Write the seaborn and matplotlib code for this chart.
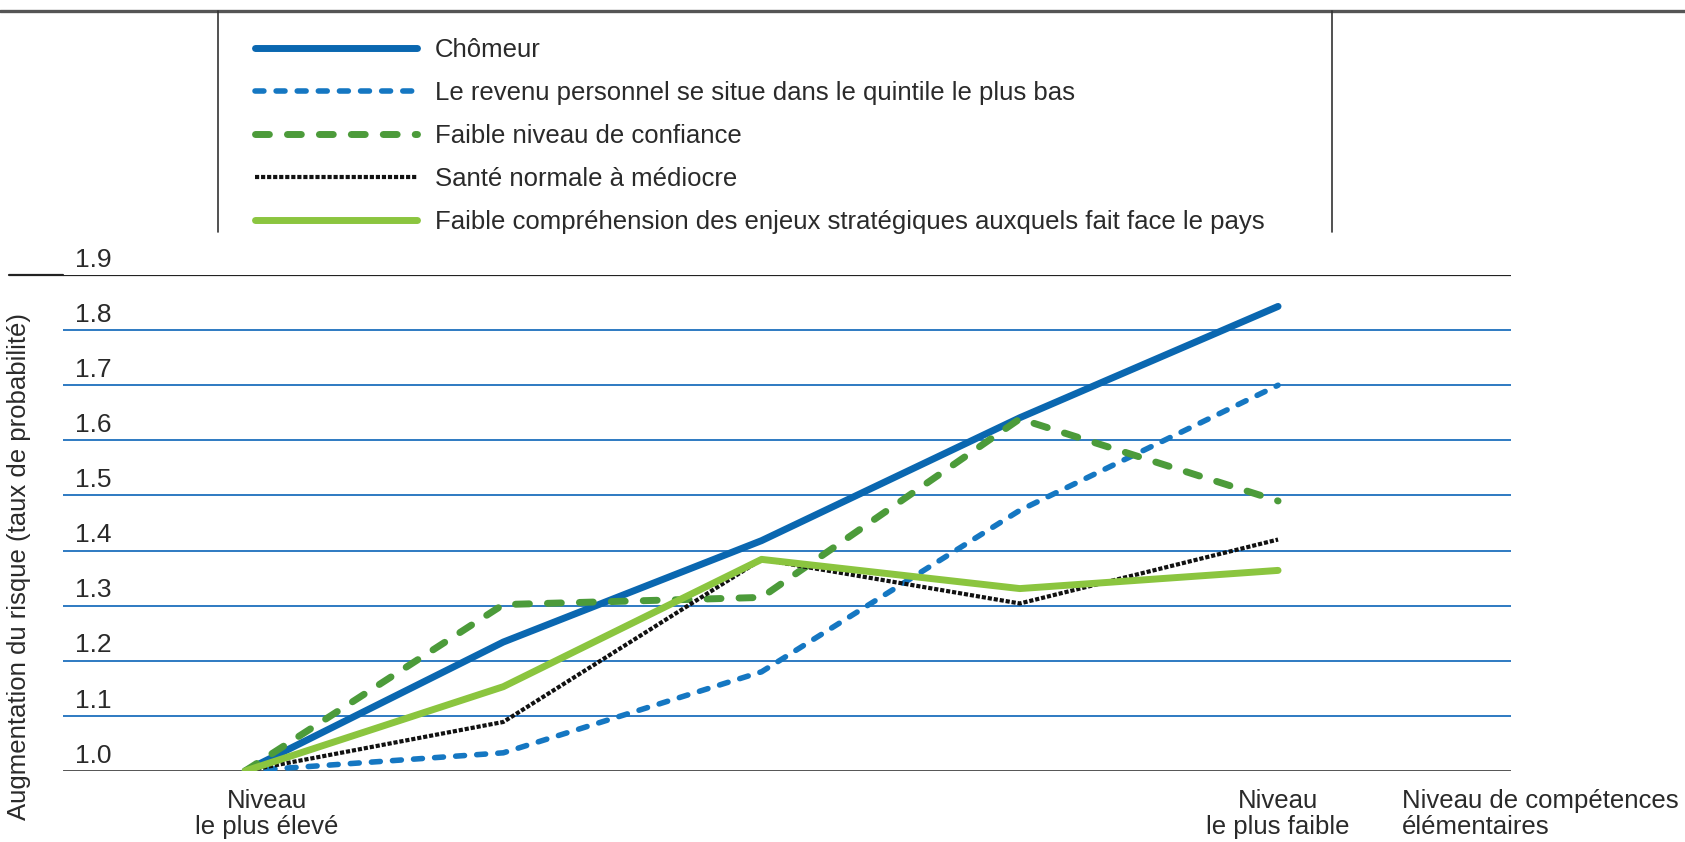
import matplotlib
matplotlib.use("Agg")
import matplotlib.pyplot as plt
import seaborn as sns
from matplotlib.lines import Line2D

# skill levels, highest (0) to lowest (4)
levels = [0, 1, 2, 3, 4]

chomeur = [1.0, 1.234, 1.418, 1.641, 1.843]
revenu = [1.0, 1.033, 1.18, 1.473, 1.70]
confiance = [1.0, 1.302, 1.315, 1.639, 1.49]
sante = [1.0, 1.089, 1.384, 1.304, 1.42]
comprehension = [1.0, 1.153, 1.384, 1.331, 1.364]

series_labels = [
    "Chômeur",
    "Le revenu personnel se situe dans le quintile le plus bas",
    "Faible niveau de confiance",
    "Santé normale à médiocre",
    "Faible compréhension des enjeux stratégiques auxquels fait face le pays",
]
y_ticks = [1.0, 1.1, 1.2, 1.3, 1.4, 1.5, 1.6, 1.7, 1.8, 1.9]
y_label = "Augmentation du risque (taux de probabilité)"
x_labels = ["Niveau\nle plus élevé", "Niveau\nle plus faible"]
x_title = "Niveau de compétences\nélémentaires"

sns.set_style("white")
plt.rcParams["font.family"] = ["Liberation Sans", "DejaVu Sans"]
text_col = "#2a2a2a"
fs = 18.5

fig = plt.figure(figsize=(16.85, 8.42), dpi=100)
ax = fig.add_axes([63 / 1685, 1 - 771 / 842, 1448 / 1685, 496 / 842])

styles = [
    ("#0a67b0", 5.0, "-", "round"),
    ("#1577c2", 4.0, (0, (1.6, 2.2)), "round"),
    ("#4c9b3a", 5.0, (0, (2.0, 2.6)), "round"),
    ("#111111", 3.0, (0, (1.0, 0.45)), "butt"),
    ("#8bc53f", 5.0, "-", "round"),
]
data = [chomeur, revenu, confiance, sante, comprehension]

# gridlines first so the lines sit on top
for t in y_ticks[1:-1]:
    ax.axhline(t, color="#1e6fbd", lw=1.3, zorder=1)
ax.axhline(1.0, color="#444444", lw=2.0, zorder=1)
ax.axhline(1.9, color="#222222", lw=1.6, zorder=1)
# the 1.9 rule runs further left than the plot area
ax.add_line(Line2D([-0.037, 0], [1.9, 1.9], transform=ax.get_yaxis_transform(),
                   color="#222222", lw=1.6, clip_on=False))

for vals, lab, (col, lw, ls, cap) in zip(data, series_labels, styles):
    sns.lineplot(x=levels, y=vals, ax=ax, color=col, linewidth=lw, linestyle=ls,
                 dash_capstyle=cap, solid_capstyle="round", label=lab, zorder=3)

ax.set_xlim(-0.705, 4.902)
ax.set_ylim(1.0, 1.9)
ax.set_xticks([])
ax.set_yticks([])
ax.set_xlabel("")
ax.set_ylabel("")
for s in ax.spines.values():
    s.set_visible(False)

for t in y_ticks:
    ax.text(0.008, t + 0.006, f"{t:.1f}", transform=ax.get_yaxis_transform(),
            ha="left", va="bottom", fontsize=19, color=text_col)

for xpos, txt, ha in [(0.085, x_labels[0], "center"), (4.0, x_labels[1], "center"),
                      (4.48, x_title, "left")]:
    ax.text(xpos, -0.036, txt, transform=ax.get_xaxis_transform(),
            ha=ha, va="top", fontsize=fs, color=text_col, linespacing=1.1)

fig.text(19 / 1685, 1 - 567 / 842, y_label, rotation=90, ha="center", va="center",
         fontsize=fs, color=text_col)

handles, labels = ax.get_legend_handles_labels()
ax.legend(handles, labels, loc="upper left", bbox_to_anchor=(255 / 1685, 1 - 38 / 842),
          bbox_transform=fig.transFigure, frameon=False, fontsize=fs,
          handlelength=6.3, handletextpad=0.7, labelspacing=0.74, borderpad=0,
          borderaxespad=0, labelcolor=text_col)

# rule along the top and the two sides of the legend panel
fig.add_artist(Line2D([0, 1], [1 - 11 / 842] * 2, color="#555555", lw=2.4))
for xp in (218, 1332):
    fig.add_artist(Line2D([xp / 1685] * 2, [1 - 11 / 842, 1 - 232 / 842],
                          color="#333333", lw=1.2))

fig.savefig("out.png", dpi=100)
